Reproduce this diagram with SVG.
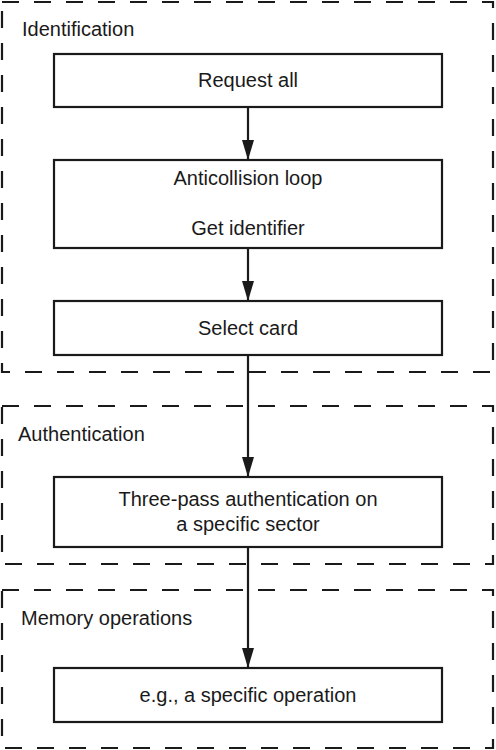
<svg xmlns="http://www.w3.org/2000/svg" width="496" height="750" viewBox="0 0 496 750">
<style>
.grp{fill:none;stroke:#1a1a1a;stroke-width:2.2;stroke-dasharray:17 15}
.box{fill:#fff;stroke:#1a1a1a;stroke-width:2.2}
.lbl{font-family:"Liberation Sans",Arial,sans-serif;font-size:20px;fill:#1a1a1a}
.t{font-family:"Liberation Sans",Arial,sans-serif;font-size:20px;fill:#1a1a1a;text-anchor:middle}
.edge{stroke:#1a1a1a;stroke-width:2.2;fill:none;marker-end:url(#arr)}
</style>
<defs>
<marker id="arr" markerUnits="userSpaceOnUse" markerWidth="20" markerHeight="12" refX="20" refY="6" orient="auto" viewBox="0 0 20 12">
<path d="M0,0 L20,6 L0,12 Z" fill="#1a1a1a"/>
</marker>
</defs>
<rect width="496" height="750" fill="#fff"/>
<g id="group-identification">
<rect class="grp" x="2" y="2" width="491" height="370"/>
<text class="lbl" x="22" y="36">Identification</text>
</g>
<g id="group-authentication">
<rect class="grp" x="2" y="406" width="491" height="158"/>
<text class="lbl" x="18" y="441">Authentication</text>
</g>
<g id="group-memory">
<rect class="grp" x="2" y="590" width="491" height="158"/>
<text class="lbl" x="21" y="625">Memory operations</text>
</g>
<g id="connectors">
<line class="edge" x1="248" y1="107" x2="248" y2="160"/>
<line class="edge" x1="248" y1="248" x2="248" y2="301"/>
<line class="edge" x1="248" y1="355" x2="248" y2="477"/>
<line class="edge" x1="248" y1="547" x2="248" y2="668"/>
</g>
<g id="node-request">
<rect class="box" x="54" y="54" width="388" height="53"/>
<text class="t" x="248" y="87">Request all</text>
</g>
<g id="node-anticollision">
<rect class="box" x="54" y="160" width="388" height="88"/>
<text class="t" x="248" y="185">Anticollision loop</text>
<text class="t" x="248" y="235">Get identifier</text>
</g>
<g id="node-select">
<rect class="box" x="54" y="301" width="388" height="54"/>
<text class="t" x="248" y="335">Select card</text>
</g>
<g id="node-threepass">
<rect class="box" x="54" y="477" width="388" height="70"/>
<text class="t" x="248" y="506">Three-pass authentication on</text>
<text class="t" x="248" y="531">a specific sector</text>
</g>
<g id="node-operation">
<rect class="box" x="54" y="668" width="388" height="54"/>
<text class="t" x="248" y="702">e.g., a specific operation</text>
</g>
</svg>
